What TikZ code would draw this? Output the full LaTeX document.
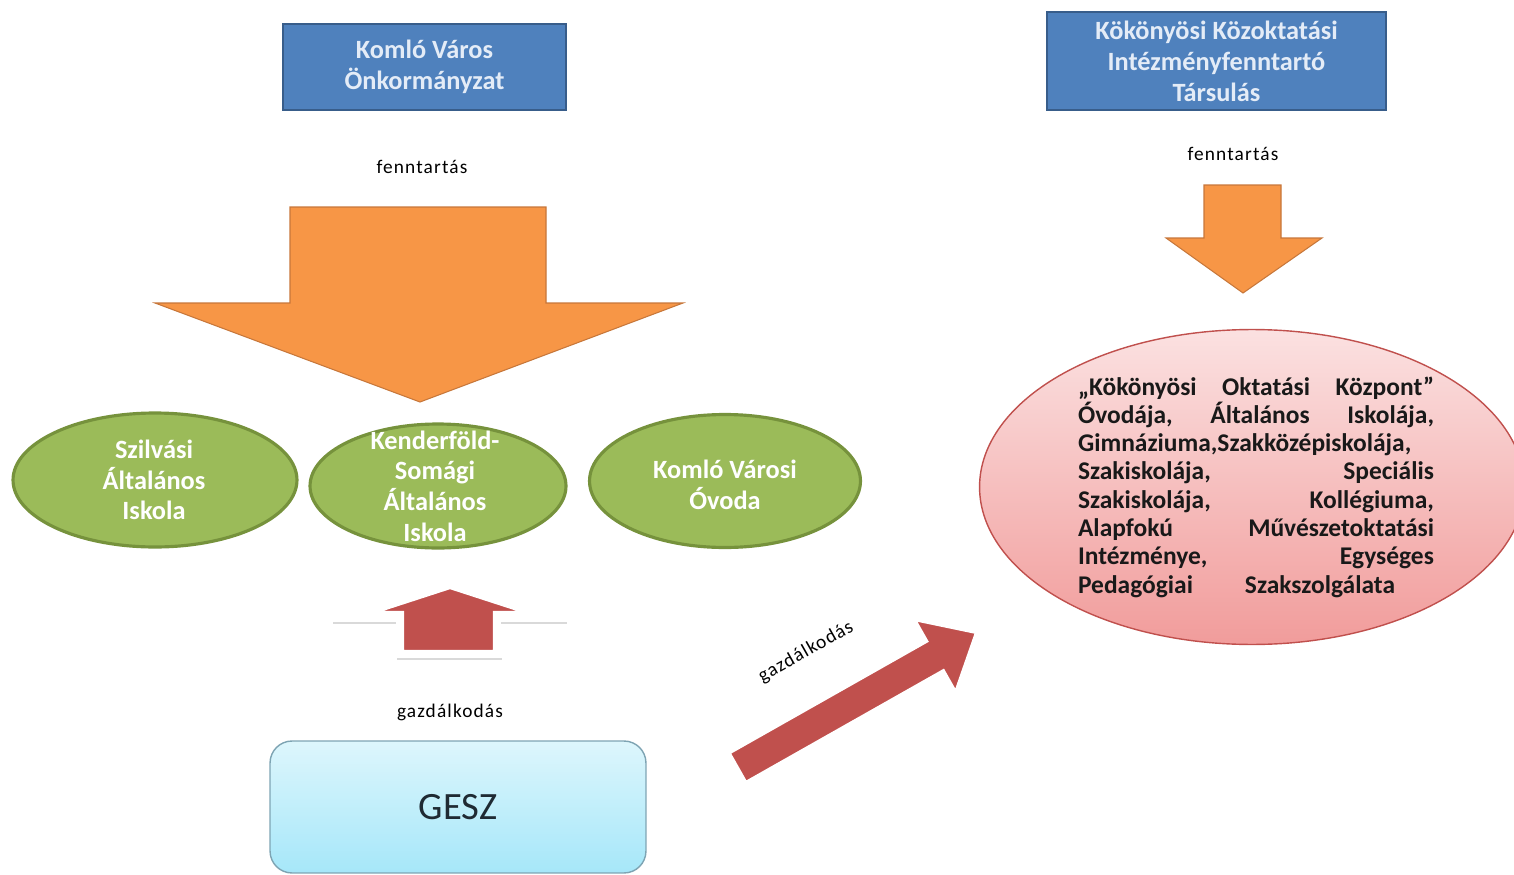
\documentclass[tikz,border=0pt]{standalone}
\usepackage{fontspec}
\setmainfont{Carlito}
\newfontfamily\spacedfont[LetterSpace=6]{Carlito}
\usetikzlibrary{shapes,arrows}

\definecolor{ownerfill}{HTML}{4F81BD}
\definecolor{ownerline}{HTML}{385D8A}
\definecolor{ownertext}{HTML}{E4ECF7}
\definecolor{arroworange}{HTML}{F79646}
\definecolor{arrowedge}{HTML}{C7773A}
\definecolor{schoolfill}{HTML}{9BBB59}
\definecolor{schoolline}{HTML}{76923C}
\definecolor{arrowred}{HTML}{C0504D}
\definecolor{okktop}{HTML}{FBE1E1}
\definecolor{okkbottom}{HTML}{F19C9B}
\definecolor{okkline}{HTML}{C0504D}
\definecolor{gesztop}{HTML}{DDF6FC}
\definecolor{geszbottom}{HTML}{A6E7F9}
\definecolor{geszline}{HTML}{7EA4B3}
\definecolor{geszink}{HTML}{1F2A33}

\begin{document}
\begin{tikzpicture}
		[
		x = 0.02cm, y = -0.02cm,
		ownerbox/.style = {draw=ownerline, line width=1.2pt, fill=ownerfill, text=ownertext, align=center, inner sep=0pt, font=\bfseries\fontsize{15}{17.6}\selectfont},
		schoolell/.style = {ellipse, draw=schoolline, line width=1.8pt, fill=schoolfill},
		schooltxt/.style = {text=white, align=center, inner sep=0pt, font=\bfseries\fontsize{15}{17.4}\selectfont},
		linktxt/.style = {inner sep=0pt, font=\spacedfont\fontsize{11}{13}\selectfont},
		orangearrow/.style = {fill=arroworange, draw=arrowedge, line width=0.6pt, line join=miter},
		redarrow/.style = {fill=arrowred, draw=white, line width=2.4pt, line join=miter},
		shadowline/.style = {draw=gray!30, line width=1.6pt},
		okkell/.style = {ellipse, draw=okkline, line width=0.8pt, top color=okktop, bottom color=okkbottom},
		okktxt/.style = {text width=7.12cm, align=justify, inner sep=0pt, text=black!90, font=\bfseries\fontsize{14.5}{16.1}\selectfont},
		geszbox/.style = {rounded corners=0.44cm, draw=geszline, line width=0.8pt, top color=gesztop, bottom color=geszbottom, text=geszink, font=\fontsize{22}{26}\selectfont}
		]
		
		\useasboundingbox (0,0) rectangle (1514,875);
		\clip (0,0) rectangle (1514,875);
		
		\node[ownerbox, minimum width=5.66cm, minimum height=1.72cm] (komlo) at (424.5,67) {Komló Város\\Önkormányzat};
		\node[ownerbox, minimum width=6.78cm, minimum height=1.96cm] (tarsulas) at (1216.5,61) {Kökönyösi Közoktatási\\Intézményfenntartó\\Társulás};
		
		\node[linktxt] (fennkomlo) at (422,167) {fenntartás};
		\node[linktxt] (fenntarsulas) at (1233,154) {fenntartás};
		
		\draw[orangearrow] (290,207) -- (546,207) -- (546,303) -- (683,303) -- (420,402) -- (155,303) -- (290,303) -- cycle;
		\draw[orangearrow] (1204,185) -- (1281,185) -- (1281,238) -- (1322,238) -- (1243,293) -- (1166,238) -- (1204,238) -- cycle;
		
		\node[schoolell, minimum width=5.68cm, minimum height=2.68cm] (szilvasi) at (155,480) {};
		\node[schoolell, minimum width=5.12cm, minimum height=2.48cm] (kenderfold) at (438,486) {};
		\node[schoolell, minimum width=5.42cm, minimum height=2.66cm] (ovoda) at (725,481) {};
		\node[schooltxt] (szilvasitxt) at (154,480) {Szilvási\\Általános\\Iskola};
		\node[schooltxt] (kenderfoldtxt) at (435,486) {Kenderföld-\\Somági\\Általános\\Iskola};
		\node[schooltxt] (ovodatxt) at (725,485) {Komló Városi\\Óvoda};
		
		\node[okkell, minimum width=10.9cm, minimum height=6.3cm] (okk) at (1252,487) {};
		\node[okktxt] (okktext) at (1256,487) {\hyphenpenalty=10000\relax
			„Kökönyösi\hfill Oktatási\hfill Központ”\linebreak
			Óvodája,\hfill Általános\hfill Iskolája,\linebreak
			Gimnáziuma,Szakközépiskolája,\linebreak
			Szakiskolája,\hfill Speciális\linebreak
			Szakiskolája,\hfill Kollégiuma,\linebreak
			Alapfokú\hfill Művészetoktatási\linebreak
			Intézménye,\hfill Egységes\linebreak
			Pedagógiai\hspace{1.04cm}Szakszolgálata};
		
		\draw[shadowline] (333,623) -- (396,623);
		\draw[shadowline] (501,623) -- (567,623);
		\draw[shadowline] (397,659) -- (502,659);
		\draw[redarrow] (402,652) -- (402,613) -- (370,613) -- (450,587) -- (530,613) -- (495,613) -- (495,652) -- cycle;
		
		\node[linktxt] (gazdgesz) at (450,712) {gazdálkodás};
		\node[geszbox, minimum width=7.52cm, minimum height=2.64cm] (gesz) at (458,807) {GESZ};
		
		\begin{scope}[shift={(737,768)}, rotate=29.5]
			\draw[redarrow] (0,-17.5) -- (227,-17.5) -- (227,-43) -- (276,0) -- (227,43) -- (227,17.5) -- (0,17.5) -- cycle;
		\end{scope}
		\node[linktxt, rotate=29.5] (gazdokk) at (806,652) {gazdálkodás};
		
\end{tikzpicture}
\end{document}
